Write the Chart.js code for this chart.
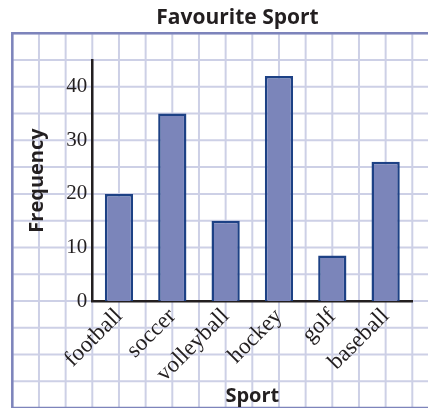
<!DOCTYPE html>
<html>
<head>
<meta charset="utf-8">
<script src="https://cdn.jsdelivr.net/npm/chart.js@4"></script>
<style>
  html, body { margin: 0; padding: 0; background: #ffffff; }
  #wrap { width: 428px; height: 408px; }
</style>
</head>
<body>
<div id="wrap"><canvas id="c" width="428" height="408"></canvas></div>
<script>
const categories = ['football', 'soccer', 'volleyball', 'hockey', 'golf', 'baseball'];
const frequency = [20, 35, 15, 42, 8.5, 26];
const yTickStep = 10;
const yMax = 45;

const graphPaper = {
  id: 'graphPaper',
  beforeDraw(chart) {
    const { ctx, width, height } = chart;
    const x = chart.scales.x, y = chart.scales.y;
    const x0 = x.getPixelForValue(0);
    const cellX = (x.getPixelForValue(1) - x.getPixelForValue(0)) / 2;
    const y0 = y.getPixelForValue(0);
    const cellY = y.getPixelForValue(0) - y.getPixelForValue(5);
    const left = x0 - 4 * cellX, top = y0 - 10 * cellY, bottom = y0 + 4 * cellY;
    ctx.save();
    ctx.fillStyle = '#ffffff';
    ctx.fillRect(0, 0, width, height);
    ctx.strokeStyle = '#cdd0e6';
    ctx.lineWidth = 2;
    ctx.beginPath();
    for (let k = -4; x0 + k * cellX < width + cellX; k++) {
      const px = x0 + k * cellX;
      ctx.moveTo(px, top); ctx.lineTo(px, bottom);
    }
    for (let k = -10; k <= 4; k++) {
      const py = y0 + k * cellY;
      ctx.moveTo(left, py); ctx.lineTo(width + 5, py);
    }
    ctx.stroke();
    ctx.strokeStyle = '#7d84bb';
    ctx.lineWidth = 2.5;
    ctx.beginPath();
    ctx.moveTo(width + 5, top); ctx.lineTo(left, top); ctx.lineTo(left, bottom); ctx.lineTo(width + 5, bottom);
    ctx.stroke();
    ctx.restore();
  }
};

new Chart(document.getElementById('c'), {
  type: 'bar',
  data: {
    labels: categories,
    datasets: [{
      data: frequency,
      backgroundColor: '#7b85ba',
      borderColor: '#1d4185',
      borderWidth: 2.5,
      barPercentage: 0.53,
      categoryPercentage: 1
    }]
  },
  plugins: [graphPaper],
  options: {
    responsive: false,
    animation: false,
    layout: { padding: { left: 62.7, right: 15.7, top: 0, bottom: 0 } },
    plugins: {
      legend: { display: false },
      tooltip: { enabled: false },
      title: {
        display: true,
        text: 'Favourite Sport',
        color: '#231f20',
        font: { family: 'Open Sans', weight: 'bold', size: 21 },
        padding: { top: 5.5, bottom: 29.3 }
      }
    },
    scales: {
      x: {
        offset: true,
        grid: { display: false, drawTicks: false },
        border: { display: true, color: '#231f20', width: 2.5 },
        ticks: {
          autoSkip: false,
          minRotation: 45,
          maxRotation: 45,
          padding: 2,
          color: '#231f20',
          font: { family: 'Liberation Serif', size: 23 }
        },
        title: {
          display: true,
          text: 'Sport',
          color: '#231f20',
          font: { family: 'Open Sans', weight: 'bold', size: 20 },
          padding: { top: 0, bottom: 0 }
        },
        afterFit(scale) { scale.height = 107; }
      },
      y: {
        min: 0,
        max: yMax,
        grid: { display: false, drawTicks: false },
        border: { display: true, color: '#231f20', width: 2.5 },
        ticks: {
          stepSize: yTickStep,
          includeBounds: false,
          padding: 5,
          color: '#231f20',
          font: { family: 'Liberation Serif', size: 21 }
        },
        title: {
          display: true,
          text: 'Frequency',
          color: '#231f20',
          font: { family: 'Open Sans', weight: 'bold', size: 20 },
          padding: { top: -37.2, bottom: 0 }
        },
        afterFit(scale) { scale.width = 29.6; }
      }
    }
  }
});
</script>
</body>
</html>
